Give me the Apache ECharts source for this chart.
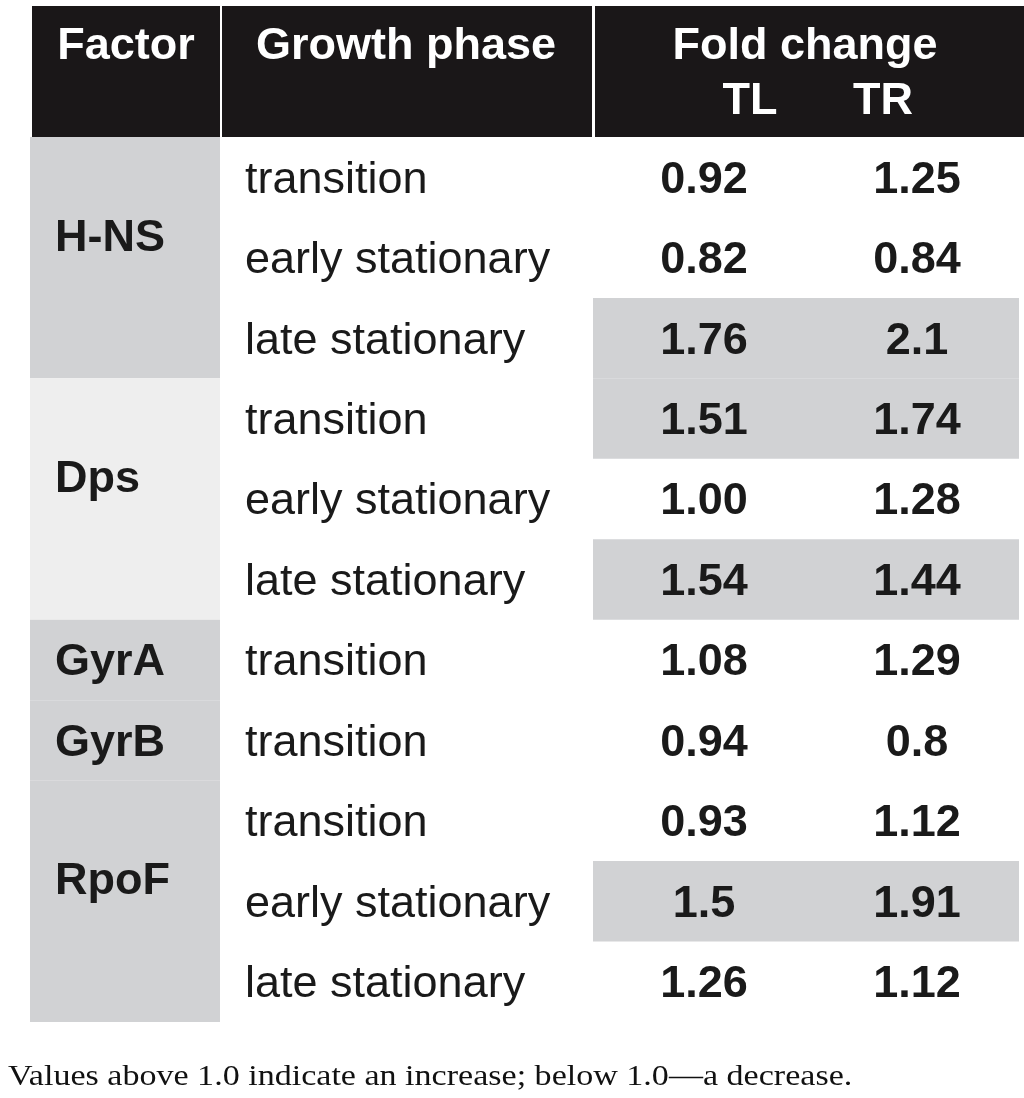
<!DOCTYPE html>
<html>
<head>
<meta charset="utf-8">
<script src="https://cdn.jsdelivr.net/npm/echarts@6/dist/echarts.min.js"></script>
<style>
  html, body { margin: 0; padding: 0; background: #fff; }
  #chart { width: 1024px; height: 1098px; }
</style>
</head>
<body>
<div id="chart"></div>
<script>
// table content
const factors = ['H-NS', 'Dps', 'GyrA', 'GyrB', 'RpoF'];
const factorRowCount = [3, 3, 1, 1, 3];
const phases = ['transition', 'early stationary', 'late stationary',
                'transition', 'early stationary', 'late stationary',
                'transition', 'transition',
                'transition', 'early stationary', 'late stationary'];
const foldTL = ['0.92', '0.82', '1.76', '1.51', '1.00', '1.54', '1.08', '0.94', '0.93', '1.5', '1.26'];
const foldTR = ['1.25', '0.84', '2.1', '1.74', '1.28', '1.44', '1.29', '0.8', '1.12', '1.91', '1.12'];
const highlightRows = [2, 3, 5, 9];
const headers = ['Factor', 'Growth phase', 'Fold change'];
const subHeaders = ['TL', 'TR'];
const note = 'Values above 1.0 indicate an increase; below 1.0\u2014a decrease.';

// layout / styles
const GREY = '#d1d2d4', LIGHT = '#eeeeee', BLACK = '#1a1718';
const factorFill = [GREY, LIGHT, GREY, GREY, GREY];
const X = { factorL: 30, factorR: 220, factorText: 55, phase: 245, valL: 593, valR: 1019, tl: 704, tr: 917 };
const SANS = '"Liberation Sans", Arial, sans-serif';
const TEXT_DY = 3;

const chart = echarts.init(document.getElementById('chart'));

// factor blocks: [x, startRow, rowCount, index]
let start = 0;
const factorData = factors.map((f, i) => {
  const d = [0, start, factorRowCount[i], i];
  start += factorRowCount[i];
  return d;
});

function txt(text, x, y, bold, align) {
  return {
    type: 'text',
    style: {
      text: text, x: x, y: y + TEXT_DY,
      fontSize: 45, fontFamily: SANS, fontWeight: bold ? 'bold' : 'normal',
      fill: '#1a1a1a', align: align || 'left', verticalAlign: 'middle'
    }
  };
}

function headText(text, x, y) {
  return { type: 'text', style: { text: text, x: x, y: y, fontSize: 45, fontWeight: 'bold', fontFamily: SANS, fill: '#fff', align: 'center', verticalAlign: 'middle' } };
}

const option = {
  animation: false,
  grid: { left: 0, right: 0, top: 137, bottom: 76 },
  xAxis: { type: 'value', min: 0, max: 1024, show: false },
  yAxis: {
    type: 'category', inverse: true, show: false,
    data: phases.map((p, i) => i)
  },
  graphic: [
    { type: 'rect', shape: { x: 32, y: 6, width: 188, height: 131 }, style: { fill: BLACK } },
    { type: 'rect', shape: { x: 222, y: 6, width: 370, height: 131 }, style: { fill: BLACK } },
    { type: 'rect', shape: { x: 595, y: 6, width: 429, height: 131 }, style: { fill: BLACK } },
    headText(headers[0], 126, 47),
    headText(headers[1], 406, 47),
    headText(headers[2], 805, 47),
    headText(subHeaders[0], 750, 102),
    headText(subHeaders[1], 883, 102),
    {
      type: 'text', x: 8, y: 1077, scaleX: 1.135,
      style: { text: note, x: 0, y: 0, fontSize: 30, fontFamily: '"Liberation Serif", "Times New Roman", serif', fill: '#111', align: 'left', verticalAlign: 'middle' }
    }
  ],
  series: [
    {
      // grey bands behind notable fold changes
      type: 'custom',
      data: highlightRows.map(r => [0, r]),
      encode: { x: 0, y: 1 },
      renderItem: function (params, api) {
        const p = api.coord([X.valL, api.value(1)]);
        const h = api.size([0, 1])[1];
        const xr = api.coord([X.valR, api.value(1)])[0];
        return { type: 'rect', shape: { x: p[0], y: p[1] - h / 2, width: xr - p[0], height: h }, style: { fill: GREY } };
      }
    },
    {
      // factor cells
      type: 'custom',
      data: factorData,
      encode: { x: 0, y: 1 },
      renderItem: function (params, api) {
        const s = api.value(1), n = api.value(2), idx = api.value(3);
        const h = api.size([0, 1])[1];
        const p = api.coord([X.factorL, s]);
        const xr = api.coord([X.factorR, s])[0];
        const top = p[1] - h / 2;
        const off = n > 1 ? n / 2 - 0.28 : 0.5;
        return {
          type: 'group',
          children: [
            { type: 'rect', shape: { x: p[0], y: top, width: xr - p[0], height: n * h }, style: { fill: factorFill[idx] } },
            txt(factors[idx], api.coord([X.factorText, s])[0], top + off * h, true)
          ]
        };
      }
    },
    {
      // phase and fold-change values
      type: 'custom',
      data: phases.map((p, i) => [0, i]),
      encode: { x: 0, y: 1 },
      renderItem: function (params, api) {
        const r = api.value(1);
        const y = api.coord([0, r])[1];
        return {
          type: 'group',
          children: [
            txt(phases[r], api.coord([X.phase, r])[0], y, false),
            txt(foldTL[r], api.coord([X.tl, r])[0], y, true, 'center'),
            txt(foldTR[r], api.coord([X.tr, r])[0], y, true, 'center')
          ]
        };
      }
    }
  ]
};

chart.setOption(option);
</script>
</body>
</html>
